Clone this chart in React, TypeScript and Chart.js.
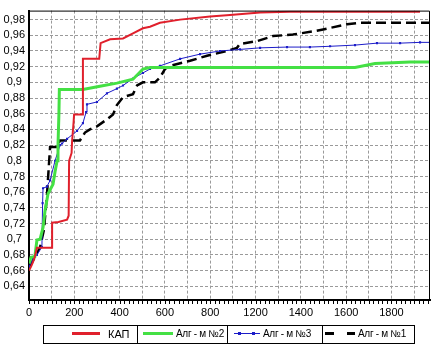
import React, { useEffect, useRef } from 'react';
import { Chart, registerables } from 'chart.js';
Chart.register(...registerables);

// x tick labels as printed on the axis (one per 200 units of axis position)
const xTickLabels = ['0', '200', '400', '600', '800', '1200', '1400', '1600', '1800'];
const yTickValues = [0.64, 0.66, 0.68, 0.7, 0.72, 0.74, 0.76, 0.78, 0.8, 0.82, 0.84, 0.86, 0.88, 0.9, 0.92, 0.94, 0.96, 0.98];

const seriesNames = ['КАП', 'Алг - м №2', 'Алг - м №3', 'Алг - м №1'];

const kapData: [number, number][] = [
  [0, 0.66], [9, 0.665], [18, 0.671], [26, 0.678], [35, 0.689], [102, 0.689], [102, 0.721],
  [130, 0.722], [168, 0.725], [175, 0.73], [177, 0.8], [188, 0.81], [190, 0.824], [197, 0.85],
  [199, 0.859], [238, 0.859], [238, 0.93], [310, 0.93], [316, 0.95], [358, 0.955], [415, 0.956],
  [459, 0.9625], [503, 0.969], [534, 0.971], [578, 0.976], [667, 0.98], [799, 0.984], [887, 0.986],
  [1020, 0.989], [1152, 0.99], [1726, 0.99],
];

const alg2Data: [number, number][] = [
  [0, 0.669], [9, 0.677], [26, 0.678], [35, 0.699], [49, 0.7], [62, 0.715], [71, 0.737], [84, 0.758],
  [106, 0.77], [115, 0.786], [124, 0.8], [128, 0.82], [132, 0.859], [134, 0.891], [238, 0.891],
  [313, 0.895], [388, 0.899], [459, 0.904], [503, 0.917], [534, 0.919], [1439, 0.919], [1527, 0.924],
  [1682, 0.926], [1770, 0.926],
];

const alg3Data: [number, number][] = [
  [0, 0.665], [18, 0.675], [35, 0.68], [57, 0.69], [60, 0.746], [62, 0.765], [79, 0.767], [93, 0.775],
  [115, 0.8], [137, 0.82], [146, 0.822], [168, 0.828], [212, 0.838], [238, 0.848], [252, 0.862],
  [256, 0.872], [300, 0.875], [344, 0.886], [388, 0.892], [415, 0.896], [459, 0.905], [503, 0.912],
  [534, 0.917], [578, 0.921], [667, 0.93], [755, 0.936], [843, 0.94], [931, 0.942], [1020, 0.944],
  [1139, 0.945], [1240, 0.945], [1329, 0.946], [1439, 0.9475], [1536, 0.95], [1638, 0.95],
  [1726, 0.951], [1770, 0.951],
];

const alg1Data: [number, number][] = [
  [0, 0.665], [22, 0.675], [49, 0.69], [66, 0.712], [79, 0.755], [93, 0.8175], [128, 0.8175],
  [132, 0.823], [137, 0.826], [225, 0.826], [247, 0.836], [269, 0.84], [300, 0.844], [340, 0.852],
  [371, 0.859], [388, 0.871], [415, 0.881], [459, 0.885], [477, 0.896], [503, 0.9], [556, 0.9],
  [578, 0.906], [600, 0.917], [622, 0.921], [711, 0.9275], [786, 0.934], [874, 0.94], [918, 0.944],
  [931, 0.949], [1006, 0.9525], [1077, 0.959], [1165, 0.961], [1254, 0.965], [1298, 0.9675],
  [1404, 0.974], [1461, 0.976], [1770, 0.976],
];

const RED = '#e0202c';
const GREEN = '#44e044';
const BLUE = '#1c1cc8';
const BLACK = '#000000';
const FONT = "'Liberation Sans', Arial, sans-serif";

const toXY = (d: [number, number][]) => d.map(([x, y]) => ({ x, y }));

const framePlugin = {
  id: 'frame',
  afterDraw(chart: any) {
    const { ctx, chartArea: a, scales } = chart;
    ctx.save();
    ctx.strokeStyle = '#000';
    ctx.lineWidth = 1;
    ctx.setLineDash([]);
    ctx.beginPath();
    ctx.moveTo(a.left, a.top + 0.5);
    ctx.lineTo(a.right - 0.5, a.top + 0.5);
    ctx.lineTo(a.right - 0.5, a.bottom);
    ctx.stroke();
    const xs = scales.x;
    ctx.beginPath();
    for (let v = 0; v <= xs.max; v += 20) {
      const px = Math.round(xs.getPixelForValue(v)) + 0.5;
      ctx.moveTo(px, a.bottom + 1);
      ctx.lineTo(px, a.bottom + 4);
    }
    ctx.stroke();
    ctx.restore();
  },
};

function LegendSample({ kind }: { kind: number }) {
  if (kind === 0) return <div style={{ position: 'absolute', left: 29, top: 7, width: 28, height: 3, background: RED }} />;
  if (kind === 1) return <div style={{ position: 'absolute', left: 5, top: 7, width: 30, height: 3, background: GREEN }} />;
  if (kind === 2)
    return (
      <>
        <div style={{ position: 'absolute', left: 6, top: 8, width: 26, height: 1, background: BLUE }} />
        <div style={{ position: 'absolute', left: 10, top: 7, width: 3, height: 3, background: BLUE }} />
        <div style={{ position: 'absolute', left: 24, top: 7, width: 3, height: 3, background: BLUE }} />
      </>
    );
  return (
    <>
      <div style={{ position: 'absolute', left: 2, top: 7, width: 9, height: 3, background: BLACK }} />
      <div style={{ position: 'absolute', left: 24, top: 7, width: 8, height: 3, background: BLACK }} />
    </>
  );
}

export default function App() {
  const ref = useRef<HTMLCanvasElement | null>(null);

  useEffect(() => {
    if (!ref.current) return;
    const chart = new Chart(ref.current, {
      type: 'line',
      data: {
        datasets: [
          { label: seriesNames[0], data: toXY(kapData), borderColor: RED, borderWidth: 2, pointRadius: 0, tension: 0 },
          { label: seriesNames[1], data: toXY(alg2Data), borderColor: GREEN, borderWidth: 3, pointRadius: 0, tension: 0 },
          {
            label: seriesNames[2], data: toXY(alg3Data), borderColor: BLUE, borderWidth: 1, tension: 0,
            pointRadius: 1.5, pointStyle: 'rect', pointBackgroundColor: BLUE, pointBorderColor: BLUE, pointBorderWidth: 0,
          },
          { label: seriesNames[3], data: toXY(alg1Data), borderColor: BLACK, borderWidth: 2.5, borderDash: [10, 5], pointRadius: 0, tension: 0 },
        ],
      },
      options: {
        animation: false,
        responsive: false,
        devicePixelRatio: 1,
        parsing: false as any,
        layout: { padding: { top: 4, right: 5, left: 0, bottom: 0 } },
        plugins: { legend: { display: false }, tooltip: { enabled: false } },
        scales: {
          x: {
            type: 'linear',
            min: 0,
            max: 1770,
            afterBuildTicks: (s: any) => {
              const t = [];
              for (let v = 0; v <= 1700; v += 100) t.push({ value: v });
              s.ticks = t;
            },
            afterFit: (s: any) => { s.height = 49; },
            ticks: {
              autoSkip: false,
              maxRotation: 0,
              padding: 6,
              color: '#000',
              font: { family: FONT, size: 11 },
              callback: (v: any) => (v % 200 === 0 ? xTickLabels[v / 200] ?? '' : ''),
            },
            grid: { color: '#9a9a9a', lineWidth: 1, drawTicks: false },
            border: { display: true, color: '#000', width: 2, dash: [3, 2] },
          },
          y: {
            type: 'linear',
            min: 0.6225,
            max: 0.9915,
            afterBuildTicks: (s: any) => { s.ticks = yTickValues.map((v) => ({ value: v })); },
            afterFit: (s: any) => { s.width = 29; },
            ticks: {
              padding: 4,
              crossAlign: 'center',
              color: '#000',
              font: { family: FONT, size: 11 },
              callback: (v: any) => String(+Number(v).toFixed(2)).replace('.', ','),
            },
            grid: { color: '#9a9a9a', lineWidth: 1, drawTicks: false },
            border: { display: true, color: '#000', width: 2, dash: [3, 2] },
          },
        },
      },
      plugins: [framePlugin],
    } as any);
    return () => chart.destroy();
  }, []);

  const cells = [
    { left: 43, width: 94, textLeft: 65 },
    { left: 137, width: 90, textLeft: 38 },
    { left: 227, width: 95, textLeft: 35 },
    { left: 322, width: 92, textLeft: 35 },
  ];

  return (
    <div style={{ position: 'absolute', left: 0, top: 0, width: 435, height: 349, background: '#fff', overflow: 'hidden' }}>
      <canvas ref={ref} width={435} height={349} style={{ display: 'block', width: 435, height: 349 }} />
      <div style={{ position: 'absolute', left: 43, top: 325, width: 372, height: 19, border: '1px solid #000', boxSizing: 'border-box' }} />
      {cells.map((c, i) => (
        <div key={i} style={{ position: 'absolute', left: c.left, top: 325, width: c.width, height: 19, boxSizing: 'border-box', borderLeft: i > 0 ? '1px solid #000' : 'none', fontFamily: FONT, fontSize: 10, color: '#000' }}>
          <LegendSample kind={i} />
          <span style={{ position: 'absolute', left: c.textLeft, top: 3, whiteSpace: 'nowrap', lineHeight: '12px', fontSize: i === 0 ? 11 : 10, letterSpacing: i === 0 ? 0 : '-0.3px' }}>{seriesNames[i]}</span>
        </div>
      ))}
    </div>
  );
}
